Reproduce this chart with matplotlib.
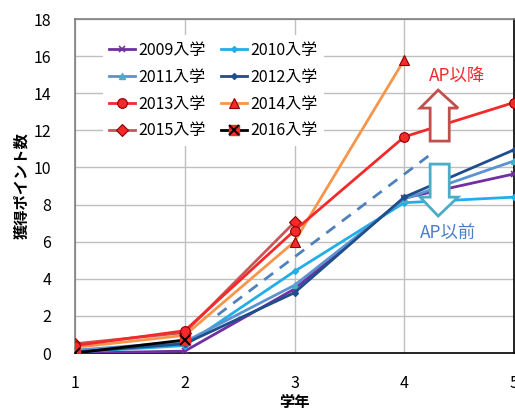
import matplotlib
matplotlib.use("Agg")
import matplotlib.pyplot as plt
from matplotlib.patches import Polygon
from matplotlib.legend_handler import HandlerTuple

plt.rcParams['font.family'] = ['Noto Sans CJK JP', 'DejaVu Sans']

# School year (学年) and points earned per entry cohort
grades = [1, 2, 3, 4, 5]
c2009 = [0.0, 0.1, 3.45, 8.35, 9.65]
c2010 = [0.05, 0.4, 4.4, 8.1, 8.4]
c2011 = [0.15, 0.6, 3.65, 8.3, 10.35]
c2012 = [0.05, 0.5, 3.25, 8.4, 10.95]
c2013 = [0.4, 1.2, 6.6, 11.65, 13.5]
c2014 = [0.3, 0.95, 6.0, 15.8]
c2015 = [0.5, 1.1, 7.05]
c2016 = [0.0, 0.7]

# Dashed reference line between the two groups
ref_x = [2.3, 4.25]
ref_y = [2.05, 10.75]

# Block arrows (outline vertices, data units)
up_arrow_x = [4.236, 4.236, 4.145, 4.309, 4.49, 4.41, 4.41]
up_arrow_y = [11.42, 13.2, 13.2, 14.17, 13.2, 13.2, 11.42]
down_arrow_x = [4.236, 4.236, 4.145, 4.309, 4.49, 4.41, 4.41]
down_arrow_y = [10.18, 8.4, 8.4, 7.38, 8.4, 8.4, 10.18]

fig = plt.figure(figsize=(5.15, 4.12), dpi=100)
ax = fig.add_axes([75 / 515, 59 / 412, 439 / 515, 334 / 412])

lw = 2.0
h = {}
h['2009'], = ax.plot(grades[:len(c2009)], c2009, color='#7030A0', lw=lw,
                     marker='x', ms=5, mew=1.2, zorder=3)
h['2010'], = ax.plot(grades[:len(c2010)], c2010, color='#22AEE8', lw=lw,
                     marker='D', ms=3, zorder=3)
h['2011'], = ax.plot(grades[:len(c2011)], c2011, color='#5B93D0', lw=lw,
                     marker='^', ms=4, mfc='#4BACC6', mec='#4BACC6', zorder=3)
h['2012'], = ax.plot(grades[:len(c2012)], c2012, color='#1F4E8C', lw=lw,
                     marker='D', ms=3, zorder=3)
h['2013'], = ax.plot(grades[:len(c2013)], c2013, color='#F42A2A', lw=lw,
                     marker='o', ms=7, mfc='#F42A2A', mec='#8B0000', mew=0.8, zorder=5)
h['2014'], = ax.plot(grades[:len(c2014)], c2014, color='#F7964A', lw=lw,
                     marker='^', ms=7, mfc='#F42A2A', mec='#8B0000', mew=0.8, zorder=4)
h['2015'], = ax.plot(grades[:len(c2015)], c2015, color='#C9575A', lw=lw,
                     marker='D', ms=6, mfc='#F42A2A', mec='#8B0000', mew=0.8, zorder=4)
l16, = ax.plot(grades[:len(c2016)], c2016, color='black', lw=lw,
               marker='s', ms=7, mfc='#F42A2A', mec='#F42A2A', zorder=6)
x16, = ax.plot(grades[:len(c2016)], c2016, ls='none', marker='x', ms=7,
               mec='black', mew=1.4, zorder=7)
h['2016'] = (l16, x16)

ax.plot(ref_x, ref_y, color='#4F81BD', lw=lw, ls=(0, (4, 3)), zorder=3)

ax.add_patch(Polygon(list(zip(up_arrow_x, up_arrow_y)), closed=True,
                     facecolor='white', edgecolor='#C0504D', lw=2, zorder=8))
ax.add_patch(Polygon(list(zip(down_arrow_x, down_arrow_y)), closed=True,
                     facecolor='white', edgecolor='#4BACC6', lw=2, zorder=8))
ax.text(4.48, 14.95, 'AP以降', color='#F42A2A', fontsize=12.5,
        ha='center', va='center', zorder=9)
ax.text(4.4, 6.45, 'AP以前', color='#4A7EC8', fontsize=12.5,
        ha='center', va='center', zorder=9)

ax.set_xlim(1, 5)
ax.set_ylim(0, 18)
ax.set_xticks(grades)
ax.set_yticks(range(0, 19, 2))
ax.grid(True, color='#BFBFBF', lw=1)
ax.set_axisbelow(True)
ax.tick_params(axis='both', length=0, labelsize=11.5)
ax.tick_params(axis='x', pad=16)
ax.tick_params(axis='y', pad=17)
for s in ['top', 'left']:
    ax.spines[s].set_color('#7F7F7F')
for s in ['bottom', 'right']:
    ax.spines[s].set_color('black')
for s in ax.spines.values():
    s.set_linewidth(1.2)

ax.set_xlabel('学年', fontsize=11, fontweight='bold', labelpad=1)
ax.set_ylabel('獲得ポイント数', fontsize=11, fontweight='bold', labelpad=3)

order = ['2009', '2011', '2013', '2015', '2010', '2012', '2014', '2016']
leg = ax.legend([h[k] for k in order], [k + '入学' for k in order],
                ncol=2, loc='upper left', bbox_to_anchor=(0.045, 0.975),
                fontsize=11.5, frameon=True, framealpha=1, edgecolor='none',
                facecolor='white', fancybox=False, handlelength=1.6,
                handletextpad=0.2, columnspacing=1.0, labelspacing=0.62,
                borderpad=0.4, handler_map={tuple: HandlerTuple(ndivide=1)})
leg.set_zorder(10)

fig.savefig('out.png', dpi=100)
